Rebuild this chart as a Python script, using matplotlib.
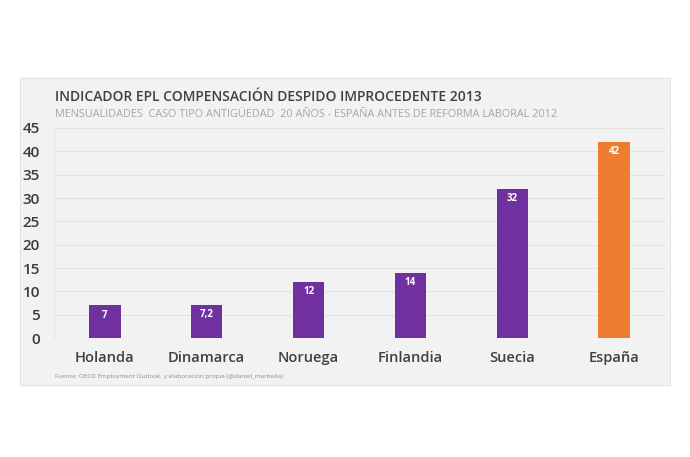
import matplotlib.pyplot as plt
from matplotlib.patches import Rectangle

plt.rcParams['font.family'] = ['Open Sans', 'DejaVu Sans']

paises = ['Holanda', 'Dinamarca', 'Noruega', 'Finlandia', 'Suecia', 'España']
mensualidades = [7, 7.2, 12, 14, 32, 42]
etiquetas = ['7', '7,2', '12', '14', '32', '42']
colores = ['#7030A0'] * 5 + ['#ED7D31']

fig = plt.figure(figsize=(6.9, 4.57), dpi=100)
fig.patch.set_facecolor('white')

# panel gris de fondo
fig.patches.append(Rectangle((0.029, 0.158), 0.942, 0.672, transform=fig.transFigure,
                             facecolor='#f2f2f2', edgecolor='#e4e4e4', lw=0.8, zorder=-5))

ax = fig.add_axes([0.078, 0.260, 0.886, 0.460])
ax.set_facecolor('none')

x = range(len(paises))
ax.bar(x, mensualidades, width=0.31, color=colores, zorder=3)
for xi, v, t in zip(x, mensualidades, etiquetas):
    ax.text(xi, v - 0.9, t, ha='center', va='top', color='white',
            fontsize=7, fontweight='bold', zorder=4)

ax.set_xlim(-0.5, 5.5)
ax.set_ylim(0, 45)
ax.set_yticks(range(0, 46, 5))
ax.set_xticks(list(x))
ax.set_xticklabels(paises, fontsize=10.5, fontweight='semibold', color='#404040')
ax.tick_params(axis='y', labelsize=11, labelcolor='#3a3a3a', length=0, pad=10)
ax.tick_params(axis='x', length=0, pad=9)
for lbl in ax.get_yticklabels():
    lbl.set_fontweight('semibold')
ax.grid(axis='y', color='#e2e2e2', lw=0.8, zorder=0)
for s in ax.spines.values():
    s.set_visible(False)
ax.spines['left'].set_visible(True)
ax.spines['left'].set_color('#e6e6e6')
ax.spines['left'].set_linewidth(0.8)

fig.text(0.080, 0.787, 'INDICADOR EPL COMPENSACIÓN DESPIDO IMPROCEDENTE 2013',
         fontsize=10, fontweight='semibold', color='#404040', va='center')
fig.text(0.080, 0.750, 'MENSUALIDADES  CASO TIPO ANTIGÜEDAD  20 AÑOS - ESPAÑA ANTES DE REFORMA LABORAL 2012',
         fontsize=7.8, color='#a6a6a6', va='center')
fig.text(0.080, 0.177, 'Fuente: OECD Employment Outlook, y elaboración propia (@daniel_marbella)',
         fontsize=4.6, color='#8c8c8c', va='center')

fig.savefig('out.png', dpi=100)
